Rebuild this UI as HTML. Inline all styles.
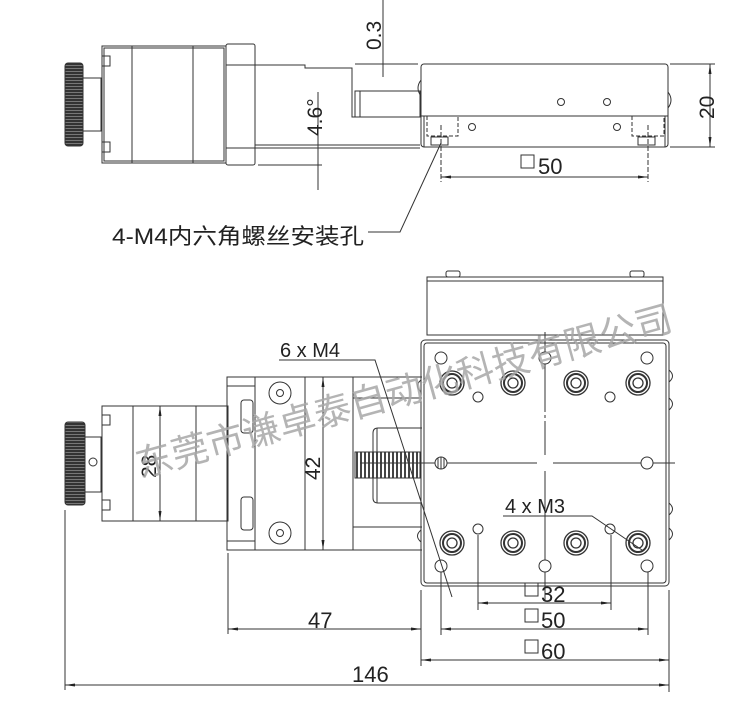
<!DOCTYPE html>
<html><head><meta charset="utf-8"><style>
html,body{margin:0;padding:0;background:#fff;}
svg{display:block;}
text{font-family:"Liberation Sans","Noto Sans CJK SC",sans-serif;fill:#222;}
</style></head><body>
<svg width="750" height="726" viewBox="0 0 750 726" xmlns="http://www.w3.org/2000/svg">
<defs>
<marker id="a" viewBox="0 0 10 6" refX="10" refY="3" markerWidth="10" markerHeight="6" orient="auto-start-reverse"><path d="M0,1.5 L10,3 L0,4.5z" fill="#222"/></marker>
<pattern id="knurl" width="3" height="3" patternUnits="userSpaceOnUse"><rect width="3" height="3" fill="#333"/><rect y="2" width="3" height="1" fill="#777"/></pattern>
<pattern id="thread" width="4" height="4" patternUnits="userSpaceOnUse"><rect width="4" height="4" fill="#fff"/><rect x="0" width="2" height="4" fill="#444"/></pattern>
</defs>
<g stroke="#333" stroke-width="1" fill="none">
<!-- ===== TOP VIEW ===== -->
<rect x="65" y="63" width="18" height="83" rx="3" fill="url(#knurl)"/>
<rect x="83" y="78" width="18" height="53" fill="#fff"/>
<rect x="102" y="46" width="124" height="117"/>
<rect x="104" y="48" width="120" height="113"/>
<line x1="132" y1="46" x2="132" y2="163"/><line x1="193" y1="46" x2="193" y2="163"/>
<rect x="102" y="56" width="8" height="10"/><rect x="102" y="142" width="8" height="10"/>
<rect x="226" y="44" width="29" height="121" rx="2"/>
<line x1="226" y1="65" x2="255" y2="65"/><line x1="226" y1="148" x2="255" y2="148"/>
<polyline points="255,65 305,65 305,68 352,68 352,117 420,117"/>
<line x1="255" y1="145" x2="420" y2="145"/>
<line x1="255" y1="148" x2="420" y2="148"/>
<rect x="355" y="91" width="65" height="26"/>
<line x1="360" y1="91" x2="360" y2="117"/>
<!-- stage -->
<rect x="421" y="64" width="247" height="83" rx="3"/>
<line x1="421" y1="116" x2="668" y2="116"/>
<line x1="424" y1="116" x2="424" y2="147"/><line x1="665" y1="116" x2="665" y2="147"/>
<path d="M421,80 q-6,8 0,16" /><path d="M668,92 q6,8 0,16"/>
<circle cx="561" cy="102" r="3.5"/><circle cx="607" cy="102" r="3.5"/>
<circle cx="472" cy="127" r="3.5"/><circle cx="617" cy="127" r="3.5"/>
<path d="M427,116 V136 H458 V116" stroke-dasharray="4,2"/>
<path d="M632,116 V136 H664 V116" stroke-dasharray="4,2"/>
<rect x="431" y="137" width="17" height="8"/><rect x="638" y="137" width="17" height="8"/>
<!-- dims top -->
<line x1="383" y1="0" x2="383" y2="77"/>
<line x1="355" y1="64" x2="418" y2="64"/>
<line x1="318" y1="92" x2="318" y2="190"/>
<line x1="258" y1="165" x2="322" y2="165"/>
<line x1="670" y1="64" x2="715" y2="64"/><line x1="670" y1="147" x2="715" y2="147"/>
<line x1="710" y1="64" x2="710" y2="147" marker-start="url(#a)" marker-end="url(#a)"/>
<line x1="441" y1="125" x2="441" y2="182" stroke-dasharray="5,2"/>
<line x1="648" y1="125" x2="648" y2="182" stroke-dasharray="5,2"/>
<line x1="441" y1="177" x2="648" y2="177" marker-start="url(#a)" marker-end="url(#a)"/>
<polyline points="441,143 400,232 368,232"/>
<rect x="521" y="155" width="13" height="13"/>
<!-- ===== BOTTOM VIEW ===== -->
<rect x="65" y="422" width="20" height="83" rx="3" fill="url(#knurl)"/>
<rect x="85" y="437" width="16" height="55" fill="#fff"/>
<circle cx="93" cy="462" r="4"/>
<rect x="102" y="406" width="126" height="115"/>
<line x1="133" y1="406" x2="133" y2="521"/><line x1="196" y1="406" x2="196" y2="521"/>
<line x1="160" y1="406" x2="160" y2="521" marker-start="url(#a)" marker-end="url(#a)"/>
<rect x="102" y="415" width="8" height="10"/><rect x="102" y="500" width="8" height="10"/>
<rect x="227" y="377" width="28" height="173"/>
<line x1="227" y1="386" x2="255" y2="386"/><line x1="227" y1="541" x2="255" y2="541"/>
<rect x="241" y="400" width="12" height="33" rx="3"/><rect x="241" y="497" width="12" height="33" rx="3"/>
<rect x="255" y="377" width="98" height="173"/>
<line x1="305" y1="377" x2="305" y2="550"/>
<line x1="323" y1="377" x2="323" y2="550" marker-start="url(#a)" marker-end="url(#a)"/>
<circle cx="280" cy="393" r="11"/><circle cx="280" cy="393" r="3.5"/>
<circle cx="280" cy="533" r="11"/><circle cx="280" cy="533" r="3.5"/>
<line x1="353" y1="398" x2="422" y2="398"/><line x1="353" y1="527" x2="422" y2="527"/>
<line x1="353" y1="377" x2="422" y2="377"/><line x1="353" y1="550" x2="422" y2="550"/>
<path d="M422,428 H378 q-5,0 -5,5 V498 q0,5 5,5 H422"/>
<line x1="377" y1="428" x2="377" y2="503"/>
<rect x="355" y="452" width="65" height="26" fill="url(#thread)"/>
<!-- top box -->
<rect x="427" y="277" width="236" height="58"/>
<line x1="427" y1="281" x2="663" y2="281"/>
<rect x="446" y="271" width="14" height="6" rx="2"/><rect x="630" y="271" width="14" height="6" rx="2"/>
<!-- plate -->
<rect x="421" y="340" width="248" height="246" rx="4"/>
<rect x="424" y="343" width="242" height="240" rx="3"/>
<path d="M669,370 q7,6 0,12 M669,398 q7,6 0,12 M669,503 q7,6 0,12 M669,528 q7,6 0,12 M421,380 q-7,6 0,12 M421,530 q-7,6 0,12"/>
<line x1="545" y1="332" x2="545" y2="455" stroke-dasharray="80,3,3,3"/>
<line x1="545" y1="471" x2="545" y2="600"/>
<line x1="360" y1="463" x2="537" y2="463"/><line x1="553" y1="463" x2="675" y2="463"/>
<g fill="#fff">
<circle cx="441" cy="463" r="6"/><circle cx="647" cy="463" r="6"/>
<circle cx="441" cy="358" r="6"/><circle cx="545" cy="358" r="6"/><circle cx="647" cy="358" r="6"/>
<circle cx="478" cy="397" r="5"/><circle cx="610" cy="397" r="5"/>
<circle cx="441" cy="566" r="6"/><circle cx="545" cy="566" r="6"/><circle cx="647" cy="566" r="6"/>
<circle cx="478" cy="529" r="5"/><circle cx="610" cy="529" r="5"/>
</g>
<path d="M438,458 v10 M441,457 v12 M444,458 v10"/>
<g stroke-width="1.3">
<circle cx="452" cy="383" r="12"/><circle cx="452" cy="383" r="9" stroke-width="2"/><circle cx="452" cy="383" r="5"/>
<circle cx="513" cy="383" r="12"/><circle cx="513" cy="383" r="9" stroke-width="2"/><circle cx="513" cy="383" r="5"/>
<circle cx="576" cy="383" r="12"/><circle cx="576" cy="383" r="9" stroke-width="2"/><circle cx="576" cy="383" r="5"/>
<circle cx="638" cy="383" r="12"/><circle cx="638" cy="383" r="9" stroke-width="2"/><circle cx="638" cy="383" r="5"/>
<circle cx="452" cy="543" r="12"/><circle cx="452" cy="543" r="9" stroke-width="2"/><circle cx="452" cy="543" r="5"/>
<circle cx="513" cy="543" r="12"/><circle cx="513" cy="543" r="9" stroke-width="2"/><circle cx="513" cy="543" r="5"/>
<circle cx="576" cy="543" r="12"/><circle cx="576" cy="543" r="9" stroke-width="2"/><circle cx="576" cy="543" r="5"/>
<circle cx="638" cy="543" r="12"/><circle cx="638" cy="543" r="9" stroke-width="2"/><circle cx="638" cy="543" r="5"/>
</g>
<!-- leaders -->
<polyline points="279,360 375,360 452,597"/>
<polyline points="503,516 592,516 642,550"/>
<!-- dims bottom -->
<line x1="478" y1="535" x2="478" y2="610"/><line x1="611" y1="535" x2="611" y2="610"/>
<line x1="478" y1="603" x2="611" y2="603" marker-start="url(#a)" marker-end="url(#a)"/>
<line x1="441" y1="572" x2="441" y2="635"/><line x1="648" y1="572" x2="648" y2="635"/>
<line x1="441" y1="629" x2="648" y2="629" marker-start="url(#a)" marker-end="url(#a)"/>
<line x1="421" y1="590" x2="421" y2="666"/><line x1="669" y1="590" x2="669" y2="692"/>
<line x1="421" y1="660" x2="669" y2="660" marker-start="url(#a)" marker-end="url(#a)"/>
<line x1="228" y1="553" x2="228" y2="634"/>
<line x1="228" y1="629" x2="421" y2="629" marker-start="url(#a)" marker-end="url(#a)"/>
<line x1="65" y1="510" x2="65" y2="690"/>
<line x1="65" y1="685" x2="669" y2="685" marker-start="url(#a)" marker-end="url(#a)"/>
<rect x="525" y="583" width="13" height="13"/>
<rect x="525" y="609" width="13" height="13"/>
<rect x="525" y="640" width="13" height="13"/>
</g>
<!-- text -->
<text x="0" y="0" font-size="21" transform="translate(381,50) rotate(-90)">0.3</text>
<text x="0" y="0" font-size="21" transform="translate(322,136) rotate(-90)">4.6°</text>
<text x="0" y="0" font-size="21" transform="translate(714,119) rotate(-90)">20</text>
<text x="538" y="174" font-size="22">50</text>
<text x="112" y="244" font-size="22" textLength="252" lengthAdjust="spacingAndGlyphs">4-M4内六角螺丝安装孔</text>
<text x="0" y="0" font-size="21" transform="translate(156,478) rotate(-90)">28</text>
<text x="0" y="0" font-size="21" transform="translate(320,480) rotate(-90)">42</text>
<text x="280" y="357" font-size="20">6 x  M4</text>
<text x="505" y="513" font-size="20">4 x  M3</text>
<text x="541" y="602" font-size="22">32</text>
<text x="541" y="628" font-size="22">50</text>
<text x="541" y="659" font-size="22">60</text>
<text x="308" y="628" font-size="22">47</text>
<text x="352" y="682" font-size="22">146</text>
<text x="0" y="0" font-size="37" style="fill:#a8a8a8;opacity:0.85" transform="translate(140,478) rotate(-15.5)">东莞市谦卓泰自动化科技有限公司</text>
</svg>
</body></html>
